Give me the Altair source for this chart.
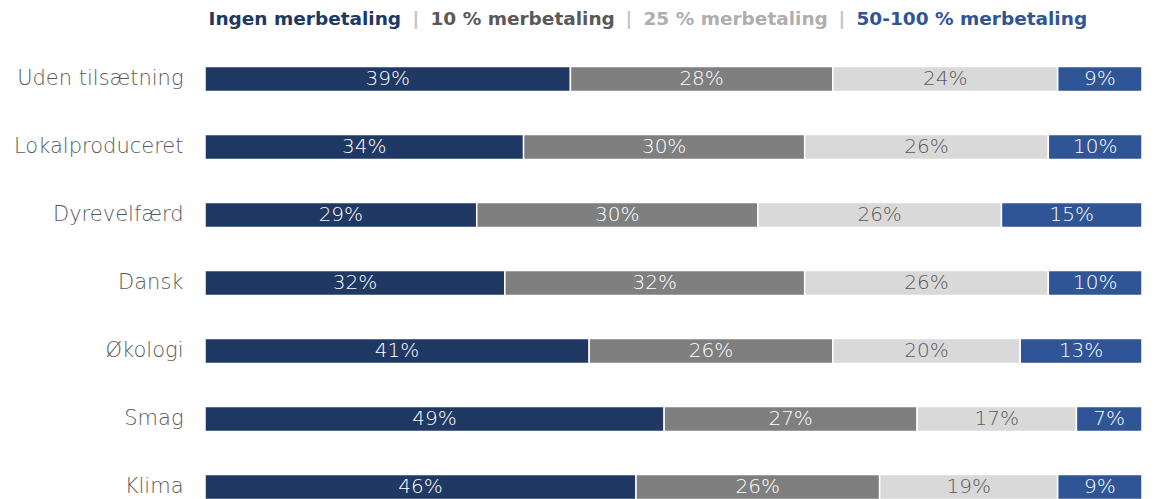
import altair as alt
import pandas as pd

categories = ["Uden tilsætning", "Lokalproduceret", "Dyrevelfærd", "Dansk", "Økologi", "Smag", "Klima"]
series = ["Ingen merbetaling", "10 % merbetaling", "25 % merbetaling", "50-100 % merbetaling"]
ingen = [39, 34, 29, 32, 41, 49, 46]
ti_pct = [28, 30, 30, 32, 26, 27, 26]
femogtyve_pct = [24, 26, 26, 26, 20, 17, 19]
halvtreds_pct = [9, 10, 15, 10, 13, 7, 9]

bar_colors = ["#203864", "#7f7f7f", "#d9d9d9", "#2f5597"]
header_colors = ["#203864", "#595959", "#aeaeae", "#2f5597"]
sep_color = "#c4c4c4"

rows = []
for i, c in enumerate(categories):
    for j, vals in enumerate([ingen, ti_pct, femogtyve_pct, halvtreds_pct]):
        rows.append({"kategori": c, "serie": series[j], "orden": j, "andel": vals[i]})
df = pd.DataFrame(rows)

legend_domain = [series[0], "|1", series[1], "|2", series[2], "|3", series[3]]
legend_range = [bar_colors[0], "#ffffff", bar_colors[1], "#ffffff", bar_colors[2], "#ffffff", bar_colors[3]]

color_expr = (
    f"datum.value == '{series[0]}' ? '{header_colors[0]}' : "
    f"datum.value == '{series[1]}' ? '{header_colors[1]}' : "
    f"datum.value == '{series[2]}' ? '{header_colors[2]}' : "
    f"datum.value == '{series[3]}' ? '{header_colors[3]}' : '{sep_color}'"
)

FONT = "DejaVu Sans"

base = alt.Chart(df).transform_window(
    cum="sum(andel)", groupby=["kategori"], sort=[alt.SortField("orden")], frame=[None, 0]
).transform_calculate(
    start="datum.cum - datum.andel",
    mid="datum.cum - datum.andel / 2",
    label="datum.andel + '%'",
)

y_enc = alt.Y(
    "kategori:N",
    sort=categories,
    scale=alt.Scale(paddingInner=0.63, paddingOuter=0.315, range=[0, 476]),
    axis=alt.Axis(
        title=None, domain=False, ticks=False, labelFontSize=21, labelColor="#595959",
        labelPadding=22, labelFont=FONT, labelFontWeight=200, labelLimit=0,
    ),
)

bars = base.mark_bar(stroke="white", strokeWidth=1.5).encode(
    x=alt.X("start:Q", scale=alt.Scale(domain=[0, 100]), axis=None),
    x2="cum:Q",
    y=y_enc,
    color=alt.Color(
        "serie:N",
        scale=alt.Scale(domain=legend_domain, range=legend_range),
        legend=alt.Legend(
            title=None, orient="none", legendX=0, legendY=-35, direction="horizontal",
            symbolSize=0, symbolStrokeWidth=0, symbolOpacity=0,
            labelOffset=alt.ExprRef(expr="-15"),
            columnPadding=7, labelFontSize=18.5, labelFont=FONT, labelFontWeight="bold",
            labelColor=alt.ExprRef(expr=color_expr),
            labelExpr="indexof(datum.value, '|') == 0 ? '|' : datum.value",
            labelLimit=0, gridAlign="none", padding=0,
        ),
    ),
    order=alt.Order("orden:Q"),
)

text = base.mark_text(font=FONT, fontSize=20, fontWeight=200).encode(
    x=alt.X("mid:Q", scale=alt.Scale(domain=[0, 100]), axis=None),
    y=y_enc,
    text="label:N",
    color=alt.condition(alt.datum.serie == series[2], alt.value("#595959"), alt.value("white")),
)

chart = alt.layer(bars, text).properties(
    width=937, height=454,
    autosize=alt.AutoSizeParams(type="none"),
    padding={"left": 205, "top": 45, "right": 15, "bottom": 0},
).configure_view(stroke=None)

chart.save("out.html", embed_options={"renderer": "svg", "actions": False})
